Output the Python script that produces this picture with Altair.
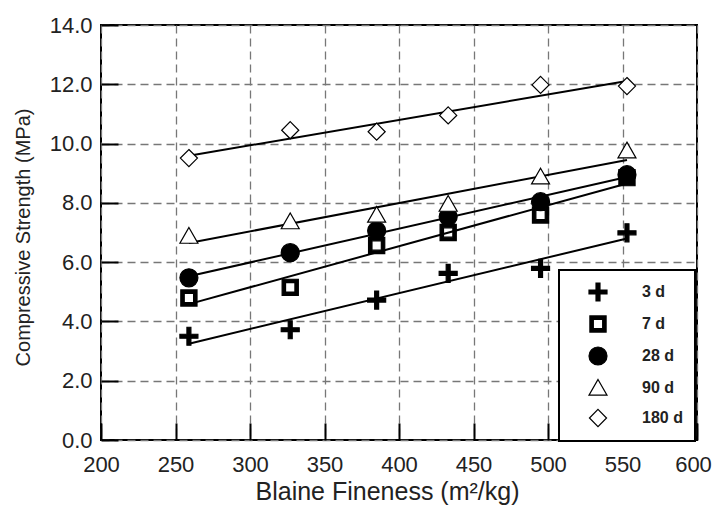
import altair as alt
import pandas as pd

fineness = [259, 327, 385, 433, 495, 553]
series_names = ["3 d", "7 d", "28 d", "90 d", "180 d"]
s3 = [3.50, 3.72, 4.72, 5.62, 5.79, 6.99]
s7 = [4.79, 5.15, 6.56, 7.00, 7.59, 8.85]
s28 = [5.47, 6.32, 7.06, 7.53, 8.04, 8.95]
s90 = [6.88, 7.37, 7.59, 7.96, 8.88, 9.76]
s180 = [9.51, 10.45, 10.40, 10.95, 11.98, 11.94]

values = {"3 d": s3, "7 d": s7, "28 d": s28, "90 d": s90, "180 d": s180}
draw_order = ["28 d", "7 d", "3 d", "90 d", "180 d"]
rows = []
for i, name in enumerate(draw_order):
    for x, y in zip(fineness, values[name]):
        rows.append({"x": x, "y": y, "series": name, "o": i})
df = pd.DataFrame(rows)

shapes = [
    "M-0.22,-1H0.22V-0.22H1V0.22H0.22V1H-0.22V0.22H-1V-0.22H-0.22Z",
    "M-0.9,-0.9H0.9V0.9H-0.9ZM-0.52,-0.52V0.52H0.52V-0.52Z",
    "M1,0A1,1 0 1,1 -1,0A1,1 0 1,1 1,0Z",
    "M0,-0.95L1,0.8L-1,0.8Z",
    "M0,-0.95L0.95,0L0,0.95L-0.95,0Z",
]
fills = ["black", "black", "black", "white", "white"]

leg = alt.Legend(
    title=None, orient="none", legendX=458, legendY=245,
    padding=12, rowPadding=9, symbolOffset=17, labelOffset=34,
    strokeColor="black", fillColor="white", symbolSize=324, symbolStrokeWidth=1.2,
    labelFont="Liberation Sans", labelFontSize=16, labelFontWeight="bold",
    labelColor="#222222",
)

base = alt.Chart(df)

points = base.mark_point(opacity=1, size=324, stroke="black", strokeWidth=1.2).encode(
    x=alt.X("x:Q"),
    y=alt.Y("y:Q"),
    shape=alt.Shape("series:N", scale=alt.Scale(domain=series_names, range=shapes), legend=leg),
    fill=alt.Fill("series:N", scale=alt.Scale(domain=series_names, range=fills), legend=leg),
    order=alt.Order("o:Q"),
)

lines = base.transform_regression("x", "y", groupby=["series"]).mark_line(
    color="black", strokeWidth=2
).encode(
    x=alt.X("x:Q", scale=alt.Scale(domain=[200, 600], nice=False),
            axis=alt.Axis(values=list(range(200, 601, 50)), format="d",
                          title="Blaine Fineness (m²/kg)", labelPadding=14,
                          labelFlush=False, labelOverlap=False,
                          labelOffset={"condition": {"test": "datum.value == 600", "value": -4}, "value": 0},
                          offset=-17, ticks=True, tickSize=17,
                          titleX=286, titleY=76, titleAlign="center", titleBaseline="alphabetic",
                          titleFont="Liberation Sans", titleFontSize=25, titleFontWeight="normal")),
    y=alt.Y("y:Q", scale=alt.Scale(domain=[0, 14], nice=False),
            axis=alt.Axis(values=list(range(0, 15, 2)), format=".1f",
                          title="Compressive Strength (MPa)", labelPadding=9,
                          labelFlush=False, labelOverlap=False,
                          offset=-17, ticks=True, tickSize=17,
                          titleX=-95, titleY=212, titleAlign="center", titleBaseline="middle",
                          titleFont="Liberation Sans Narrow, Liberation Sans", titleFontSize=20,
                          titleFontWeight="normal")),
    detail="series:N",
)

chart = alt.layer(lines, points).properties(
    width=596, height=415,
    autosize=alt.AutoSizeParams(type="none"),
    padding={"left": 93, "top": 17, "right": 15, "bottom": 65},
).configure_view(
    stroke="black", strokeWidth=2
).configure_axis(
    domain=False, tickColor="black", tickWidth=2,
    grid=True, gridColor="#777777", gridDash=[8, 5], gridWidth=1.3,
    labelFont="Liberation Sans", labelFontSize=22, labelColor="#222222",
    titleColor="#222222", zindex=1,
).configure_legend(
    strokeWidth=2
)

chart.save("out.html", embed_options={"renderer": "svg", "actions": False})
